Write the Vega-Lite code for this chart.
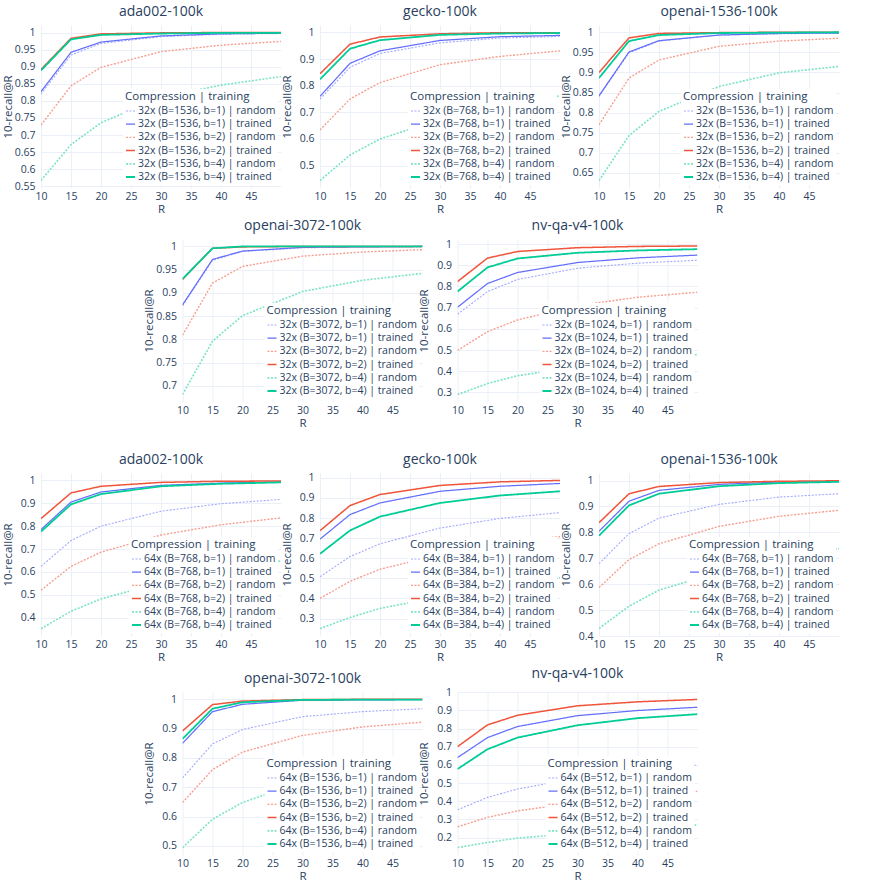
{
"$schema": "https://vega.github.io/schema/vega-lite/v6.json",
"background": "white",
"padding": {"left": 2, "top": 5, "right": 5, "bottom": 5},
"config": {
  "font": "Open Sans",
  "view": {"stroke": null},
  "axis": {"gridColor": "#ebf0f8", "gridWidth": 1, "domain": false, "ticks": false, "labelColor": "#2a3f5f", "titleColor": "#2a3f5f", "labelFontSize": 10.5, "titleFontSize": 11.5, "titleFontWeight": "normal"},
  "axisX": {"labelPadding": 3, "titlePadding": 2, "labelFlush": false, "labelOverlap": false},
  "axisY": {"labelPadding": 6, "minExtent": 27, "maxExtent": 27, "titlePadding": 1, "labelOverlap": false},
  "title": {"fontSize": 14, "fontWeight": "normal", "color": "#2a3f5f", "offset": 6, "anchor": "middle"},
  "legend": {"orient": "bottom-right", "offset": 3, "padding": 2, "fillColor": "white", "titleFontSize": 11.5, "titleFontWeight": "normal", "titleColor": "#2a3f5f", "labelColor": "#2a3f5f", "labelFontSize": 10.5, "symbolType": "stroke", "symbolSize": 81, "rowPadding": 2.2, "titlePadding": 3, "labelOffset": 2, "labelLimit": 300}
},
"datasets": {
"A": [
{"k":"b=1) | random","R":10,"v":0.820},{"k":"b=1) | random","R":15,"v":0.934},{"k":"b=1) | random","R":20,"v":0.968},{"k":"b=1) | random","R":30,"v":0.988},{"k":"b=1) | random","R":40,"v":0.995},{"k":"b=1) | random","R":50,"v":0.997},
{"k":"b=1) | trained","R":10,"v":0.827},{"k":"b=1) | trained","R":15,"v":0.942},{"k":"b=1) | trained","R":20,"v":0.972},{"k":"b=1) | trained","R":30,"v":0.990},{"k":"b=1) | trained","R":40,"v":0.996},{"k":"b=1) | trained","R":50,"v":0.998},
{"k":"b=2) | random","R":10,"v":0.729},{"k":"b=2) | random","R":15,"v":0.844},{"k":"b=2) | random","R":20,"v":0.898},{"k":"b=2) | random","R":30,"v":0.944},{"k":"b=2) | random","R":40,"v":0.963},{"k":"b=2) | random","R":50,"v":0.974},
{"k":"b=2) | trained","R":10,"v":0.892},{"k":"b=2) | trained","R":15,"v":0.983},{"k":"b=2) | trained","R":20,"v":0.996},{"k":"b=2) | trained","R":30,"v":0.999},{"k":"b=2) | trained","R":40,"v":1.0},{"k":"b=2) | trained","R":50,"v":1.0},
{"k":"b=4) | random","R":10,"v":0.567},{"k":"b=4) | random","R":15,"v":0.672},{"k":"b=4) | random","R":20,"v":0.736},{"k":"b=4) | random","R":30,"v":0.810},{"k":"b=4) | random","R":40,"v":0.846},{"k":"b=4) | random","R":50,"v":0.871},
{"k":"b=4) | trained","R":10,"v":0.889},{"k":"b=4) | trained","R":15,"v":0.980},{"k":"b=4) | trained","R":20,"v":0.993},{"k":"b=4) | trained","R":30,"v":0.997},{"k":"b=4) | trained","R":40,"v":0.999},{"k":"b=4) | trained","R":50,"v":0.999}
],
"B": [
{"k":"b=1) | random","R":10,"v":0.750},{"k":"b=1) | random","R":15,"v":0.869},{"k":"b=1) | random","R":20,"v":0.921},{"k":"b=1) | random","R":30,"v":0.961},{"k":"b=1) | random","R":40,"v":0.979},{"k":"b=1) | random","R":50,"v":0.985},
{"k":"b=1) | trained","R":10,"v":0.760},{"k":"b=1) | trained","R":15,"v":0.884},{"k":"b=1) | trained","R":20,"v":0.931},{"k":"b=1) | trained","R":30,"v":0.970},{"k":"b=1) | trained","R":40,"v":0.984},{"k":"b=1) | trained","R":50,"v":0.989},
{"k":"b=2) | random","R":10,"v":0.634},{"k":"b=2) | random","R":15,"v":0.750},{"k":"b=2) | random","R":20,"v":0.812},{"k":"b=2) | random","R":30,"v":0.879},{"k":"b=2) | random","R":40,"v":0.910},{"k":"b=2) | random","R":50,"v":0.931},
{"k":"b=2) | trained","R":10,"v":0.845},{"k":"b=2) | trained","R":15,"v":0.956},{"k":"b=2) | trained","R":20,"v":0.983},{"k":"b=2) | trained","R":30,"v":0.995},{"k":"b=2) | trained","R":40,"v":0.999},{"k":"b=2) | trained","R":50,"v":0.999},
{"k":"b=4) | random","R":10,"v":0.444},{"k":"b=4) | random","R":15,"v":0.540},{"k":"b=4) | random","R":20,"v":0.600},{"k":"b=4) | random","R":30,"v":0.673},{"k":"b=4) | random","R":40,"v":0.725},{"k":"b=4) | random","R":50,"v":0.762},
{"k":"b=4) | trained","R":10,"v":0.824},{"k":"b=4) | trained","R":15,"v":0.939},{"k":"b=4) | trained","R":20,"v":0.971},{"k":"b=4) | trained","R":30,"v":0.991},{"k":"b=4) | trained","R":40,"v":0.996},{"k":"b=4) | trained","R":50,"v":0.998}
],
"C": [
{"k":"b=1) | random","R":10,"v":0.840},{"k":"b=1) | random","R":15,"v":0.949},{"k":"b=1) | random","R":20,"v":0.978},{"k":"b=1) | random","R":30,"v":0.993},{"k":"b=1) | random","R":40,"v":0.996},{"k":"b=1) | random","R":50,"v":0.998},
{"k":"b=1) | trained","R":10,"v":0.842},{"k":"b=1) | trained","R":15,"v":0.951},{"k":"b=1) | trained","R":20,"v":0.979},{"k":"b=1) | trained","R":30,"v":0.993},{"k":"b=1) | trained","R":40,"v":0.997},{"k":"b=1) | trained","R":50,"v":0.998},
{"k":"b=2) | random","R":10,"v":0.770},{"k":"b=2) | random","R":15,"v":0.886},{"k":"b=2) | random","R":20,"v":0.931},{"k":"b=2) | random","R":30,"v":0.965},{"k":"b=2) | random","R":40,"v":0.978},{"k":"b=2) | random","R":50,"v":0.985},
{"k":"b=2) | trained","R":10,"v":0.900},{"k":"b=2) | trained","R":15,"v":0.986},{"k":"b=2) | trained","R":20,"v":0.997},{"k":"b=2) | trained","R":30,"v":0.999},{"k":"b=2) | trained","R":40,"v":1.0},{"k":"b=2) | trained","R":50,"v":1.0},
{"k":"b=4) | random","R":10,"v":0.631},{"k":"b=4) | random","R":15,"v":0.743},{"k":"b=4) | random","R":20,"v":0.803},{"k":"b=4) | random","R":30,"v":0.865},{"k":"b=4) | random","R":40,"v":0.899},{"k":"b=4) | random","R":50,"v":0.915},
{"k":"b=4) | trained","R":10,"v":0.886},{"k":"b=4) | trained","R":15,"v":0.978},{"k":"b=4) | trained","R":20,"v":0.993},{"k":"b=4) | trained","R":30,"v":0.998},{"k":"b=4) | trained","R":40,"v":0.999},{"k":"b=4) | trained","R":50,"v":1.0}
],
"D": [
{"k":"b=1) | random","R":10,"v":0.872},{"k":"b=1) | random","R":15,"v":0.970},{"k":"b=1) | random","R":20,"v":0.989},{"k":"b=1) | random","R":30,"v":0.997},{"k":"b=1) | random","R":40,"v":0.999},{"k":"b=1) | random","R":50,"v":0.999},
{"k":"b=1) | trained","R":10,"v":0.874},{"k":"b=1) | trained","R":15,"v":0.972},{"k":"b=1) | trained","R":20,"v":0.990},{"k":"b=1) | trained","R":30,"v":0.998},{"k":"b=1) | trained","R":40,"v":0.999},{"k":"b=1) | trained","R":50,"v":1.0},
{"k":"b=2) | random","R":10,"v":0.809},{"k":"b=2) | random","R":15,"v":0.921},{"k":"b=2) | random","R":20,"v":0.957},{"k":"b=2) | random","R":30,"v":0.979},{"k":"b=2) | random","R":40,"v":0.988},{"k":"b=2) | random","R":50,"v":0.993},
{"k":"b=2) | trained","R":10,"v":0.929},{"k":"b=2) | trained","R":15,"v":0.996},{"k":"b=2) | trained","R":20,"v":0.999},{"k":"b=2) | trained","R":30,"v":1.0},{"k":"b=2) | trained","R":40,"v":1.0},{"k":"b=2) | trained","R":50,"v":1.0},
{"k":"b=4) | random","R":10,"v":0.681},{"k":"b=4) | random","R":15,"v":0.796},{"k":"b=4) | random","R":20,"v":0.851},{"k":"b=4) | random","R":30,"v":0.903},{"k":"b=4) | random","R":40,"v":0.927},{"k":"b=4) | random","R":50,"v":0.942},
{"k":"b=4) | trained","R":10,"v":0.930},{"k":"b=4) | trained","R":15,"v":0.996},{"k":"b=4) | trained","R":20,"v":1.0},{"k":"b=4) | trained","R":30,"v":1.0},{"k":"b=4) | trained","R":40,"v":1.0},{"k":"b=4) | trained","R":50,"v":1.0}
],
"E": [
{"k":"b=1) | random","R":10,"v":0.669},{"k":"b=1) | random","R":15,"v":0.776},{"k":"b=1) | random","R":20,"v":0.833},{"k":"b=1) | random","R":30,"v":0.886},{"k":"b=1) | random","R":40,"v":0.910},{"k":"b=1) | random","R":50,"v":0.924},
{"k":"b=1) | trained","R":10,"v":0.702},{"k":"b=1) | trained","R":15,"v":0.814},{"k":"b=1) | trained","R":20,"v":0.866},{"k":"b=1) | trained","R":30,"v":0.913},{"k":"b=1) | trained","R":40,"v":0.935},{"k":"b=1) | trained","R":50,"v":0.948},
{"k":"b=2) | random","R":10,"v":0.498},{"k":"b=2) | random","R":15,"v":0.587},{"k":"b=2) | random","R":20,"v":0.642},{"k":"b=2) | random","R":30,"v":0.710},{"k":"b=2) | random","R":40,"v":0.749},{"k":"b=2) | random","R":50,"v":0.773},
{"k":"b=2) | trained","R":10,"v":0.823},{"k":"b=2) | trained","R":15,"v":0.934},{"k":"b=2) | trained","R":20,"v":0.965},{"k":"b=2) | trained","R":30,"v":0.983},{"k":"b=2) | trained","R":40,"v":0.989},{"k":"b=2) | trained","R":50,"v":0.991},
{"k":"b=4) | random","R":10,"v":0.290},{"k":"b=4) | random","R":15,"v":0.342},{"k":"b=4) | random","R":20,"v":0.379},{"k":"b=4) | random","R":30,"v":0.421},{"k":"b=4) | random","R":40,"v":0.458},{"k":"b=4) | random","R":50,"v":0.479},
{"k":"b=4) | trained","R":10,"v":0.776},{"k":"b=4) | trained","R":15,"v":0.890},{"k":"b=4) | trained","R":20,"v":0.932},{"k":"b=4) | trained","R":30,"v":0.959},{"k":"b=4) | trained","R":40,"v":0.970},{"k":"b=4) | trained","R":50,"v":0.976}
],
"F": [
{"k":"b=1) | random","R":10,"v":0.624},{"k":"b=1) | random","R":15,"v":0.737},{"k":"b=1) | random","R":20,"v":0.800},{"k":"b=1) | random","R":30,"v":0.865},{"k":"b=1) | random","R":40,"v":0.898},{"k":"b=1) | random","R":50,"v":0.917},
{"k":"b=1) | trained","R":10,"v":0.785},{"k":"b=1) | trained","R":15,"v":0.905},{"k":"b=1) | trained","R":20,"v":0.949},{"k":"b=1) | trained","R":30,"v":0.978},{"k":"b=1) | trained","R":40,"v":0.988},{"k":"b=1) | trained","R":50,"v":0.993},
{"k":"b=2) | random","R":10,"v":0.520},{"k":"b=2) | random","R":15,"v":0.624},{"k":"b=2) | random","R":20,"v":0.686},{"k":"b=2) | random","R":30,"v":0.761},{"k":"b=2) | random","R":40,"v":0.806},{"k":"b=2) | random","R":50,"v":0.836},
{"k":"b=2) | trained","R":10,"v":0.833},{"k":"b=2) | trained","R":15,"v":0.945},{"k":"b=2) | trained","R":20,"v":0.974},{"k":"b=2) | trained","R":30,"v":0.991},{"k":"b=2) | trained","R":40,"v":0.996},{"k":"b=2) | trained","R":50,"v":0.997},
{"k":"b=4) | random","R":10,"v":0.352},{"k":"b=4) | random","R":15,"v":0.428},{"k":"b=4) | random","R":20,"v":0.482},{"k":"b=4) | random","R":30,"v":0.553},{"k":"b=4) | random","R":40,"v":0.607},{"k":"b=4) | random","R":50,"v":0.648},
{"k":"b=4) | trained","R":10,"v":0.776},{"k":"b=4) | trained","R":15,"v":0.895},{"k":"b=4) | trained","R":20,"v":0.940},{"k":"b=4) | trained","R":30,"v":0.974},{"k":"b=4) | trained","R":40,"v":0.985},{"k":"b=4) | trained","R":50,"v":0.991}
],
"G": [
{"k":"b=1) | random","R":10,"v":0.508},{"k":"b=1) | random","R":15,"v":0.608},{"k":"b=1) | random","R":20,"v":0.672},{"k":"b=1) | random","R":30,"v":0.750},{"k":"b=1) | random","R":40,"v":0.798},{"k":"b=1) | random","R":50,"v":0.827},
{"k":"b=1) | trained","R":10,"v":0.695},{"k":"b=1) | trained","R":15,"v":0.817},{"k":"b=1) | trained","R":20,"v":0.875},{"k":"b=1) | trained","R":30,"v":0.933},{"k":"b=1) | trained","R":40,"v":0.958},{"k":"b=1) | trained","R":50,"v":0.972},
{"k":"b=2) | random","R":10,"v":0.400},{"k":"b=2) | random","R":15,"v":0.485},{"k":"b=2) | random","R":20,"v":0.545},{"k":"b=2) | random","R":30,"v":0.618},{"k":"b=2) | random","R":40,"v":0.672},{"k":"b=2) | random","R":50,"v":0.708},
{"k":"b=2) | trained","R":10,"v":0.737},{"k":"b=2) | trained","R":15,"v":0.862},{"k":"b=2) | trained","R":20,"v":0.917},{"k":"b=2) | trained","R":30,"v":0.962},{"k":"b=2) | trained","R":40,"v":0.980},{"k":"b=2) | trained","R":50,"v":0.987},
{"k":"b=4) | random","R":10,"v":0.250},{"k":"b=4) | random","R":15,"v":0.305},{"k":"b=4) | random","R":20,"v":0.350},{"k":"b=4) | random","R":30,"v":0.408},{"k":"b=4) | random","R":40,"v":0.465},{"k":"b=4) | random","R":50,"v":0.503},
{"k":"b=4) | trained","R":10,"v":0.622},{"k":"b=4) | trained","R":15,"v":0.738},{"k":"b=4) | trained","R":20,"v":0.807},{"k":"b=4) | trained","R":30,"v":0.875},{"k":"b=4) | trained","R":40,"v":0.912},{"k":"b=4) | trained","R":50,"v":0.933}
],
"H": [
{"k":"b=1) | random","R":10,"v":0.679},{"k":"b=1) | random","R":15,"v":0.795},{"k":"b=1) | random","R":20,"v":0.855},{"k":"b=1) | random","R":30,"v":0.908},{"k":"b=1) | random","R":40,"v":0.936},{"k":"b=1) | random","R":50,"v":0.949},
{"k":"b=1) | trained","R":10,"v":0.804},{"k":"b=1) | trained","R":15,"v":0.920},{"k":"b=1) | trained","R":20,"v":0.962},{"k":"b=1) | trained","R":30,"v":0.985},{"k":"b=1) | trained","R":40,"v":0.994},{"k":"b=1) | trained","R":50,"v":0.996},
{"k":"b=2) | random","R":10,"v":0.587},{"k":"b=2) | random","R":15,"v":0.695},{"k":"b=2) | random","R":20,"v":0.756},{"k":"b=2) | random","R":30,"v":0.823},{"k":"b=2) | random","R":40,"v":0.862},{"k":"b=2) | random","R":50,"v":0.885},
{"k":"b=2) | trained","R":10,"v":0.837},{"k":"b=2) | trained","R":15,"v":0.949},{"k":"b=2) | trained","R":20,"v":0.977},{"k":"b=2) | trained","R":30,"v":0.992},{"k":"b=2) | trained","R":40,"v":0.997},{"k":"b=2) | trained","R":50,"v":0.999},
{"k":"b=4) | random","R":10,"v":0.429},{"k":"b=4) | random","R":15,"v":0.515},{"k":"b=4) | random","R":20,"v":0.577},{"k":"b=4) | random","R":30,"v":0.647},{"k":"b=4) | random","R":40,"v":0.700},{"k":"b=4) | random","R":50,"v":0.737},
{"k":"b=4) | trained","R":10,"v":0.787},{"k":"b=4) | trained","R":15,"v":0.904},{"k":"b=4) | trained","R":20,"v":0.949},{"k":"b=4) | trained","R":30,"v":0.978},{"k":"b=4) | trained","R":40,"v":0.990},{"k":"b=4) | trained","R":50,"v":0.995}
],
"I": [
{"k":"b=1) | random","R":10,"v":0.732},{"k":"b=1) | random","R":15,"v":0.848},{"k":"b=1) | random","R":20,"v":0.897},{"k":"b=1) | random","R":30,"v":0.941},{"k":"b=1) | random","R":40,"v":0.958},{"k":"b=1) | random","R":50,"v":0.968},
{"k":"b=1) | trained","R":10,"v":0.850},{"k":"b=1) | trained","R":15,"v":0.958},{"k":"b=1) | trained","R":20,"v":0.983},{"k":"b=1) | trained","R":30,"v":0.997},{"k":"b=1) | trained","R":40,"v":0.998},{"k":"b=1) | trained","R":50,"v":0.999},
{"k":"b=2) | random","R":10,"v":0.648},{"k":"b=2) | random","R":15,"v":0.760},{"k":"b=2) | random","R":20,"v":0.820},{"k":"b=2) | random","R":30,"v":0.877},{"k":"b=2) | random","R":40,"v":0.906},{"k":"b=2) | random","R":50,"v":0.922},
{"k":"b=2) | trained","R":10,"v":0.892},{"k":"b=2) | trained","R":15,"v":0.982},{"k":"b=2) | trained","R":20,"v":0.994},{"k":"b=2) | trained","R":30,"v":0.999},{"k":"b=2) | trained","R":40,"v":1.0},{"k":"b=2) | trained","R":50,"v":1.0},
{"k":"b=4) | random","R":10,"v":0.494},{"k":"b=4) | random","R":15,"v":0.591},{"k":"b=4) | random","R":20,"v":0.648},{"k":"b=4) | random","R":30,"v":0.720},{"k":"b=4) | random","R":40,"v":0.765},{"k":"b=4) | random","R":50,"v":0.792},
{"k":"b=4) | trained","R":10,"v":0.865},{"k":"b=4) | trained","R":15,"v":0.968},{"k":"b=4) | trained","R":20,"v":0.990},{"k":"b=4) | trained","R":30,"v":0.998},{"k":"b=4) | trained","R":40,"v":0.999},{"k":"b=4) | trained","R":50,"v":0.999}
],
"J": [
{"k":"b=1) | random","R":10,"v":0.353},{"k":"b=1) | random","R":15,"v":0.421},{"k":"b=1) | random","R":20,"v":0.467},{"k":"b=1) | random","R":30,"v":0.528},{"k":"b=1) | random","R":40,"v":0.570},{"k":"b=1) | random","R":50,"v":0.599},
{"k":"b=1) | trained","R":10,"v":0.640},{"k":"b=1) | trained","R":15,"v":0.750},{"k":"b=1) | trained","R":20,"v":0.811},{"k":"b=1) | trained","R":30,"v":0.871},{"k":"b=1) | trained","R":40,"v":0.899},{"k":"b=1) | trained","R":50,"v":0.917},
{"k":"b=2) | random","R":10,"v":0.259},{"k":"b=2) | random","R":15,"v":0.311},{"k":"b=2) | random","R":20,"v":0.347},{"k":"b=2) | random","R":30,"v":0.393},{"k":"b=2) | random","R":40,"v":0.428},{"k":"b=2) | random","R":50,"v":0.454},
{"k":"b=2) | trained","R":10,"v":0.700},{"k":"b=2) | trained","R":15,"v":0.820},{"k":"b=2) | trained","R":20,"v":0.873},{"k":"b=2) | trained","R":30,"v":0.925},{"k":"b=2) | trained","R":40,"v":0.947},{"k":"b=2) | trained","R":50,"v":0.960},
{"k":"b=4) | random","R":10,"v":0.145},{"k":"b=4) | random","R":15,"v":0.173},{"k":"b=4) | random","R":20,"v":0.197},{"k":"b=4) | random","R":30,"v":0.224},{"k":"b=4) | random","R":40,"v":0.246},{"k":"b=4) | random","R":50,"v":0.270},
{"k":"b=4) | trained","R":10,"v":0.577},{"k":"b=4) | trained","R":15,"v":0.686},{"k":"b=4) | trained","R":20,"v":0.750},{"k":"b=4) | trained","R":30,"v":0.818},{"k":"b=4) | trained","R":40,"v":0.857},{"k":"b=4) | trained","R":50,"v":0.879}
]
},
"spacing": 23,
"center": true,
"resolve": {"scale": {"color": "independent", "strokeDash": "independent", "strokeWidth": "independent", "x": "independent", "y": "independent"}, "legend": {"color": "independent", "strokeDash": "independent", "strokeWidth": "independent"}},
"vconcat": [
{
"spacing": 4,
"center": true,
"resolve": {"scale": {"color": "independent", "strokeDash": "independent", "strokeWidth": "independent", "x": "independent", "y": "independent"}, "legend": {"color": "independent", "strokeDash": "independent", "strokeWidth": "independent"}},
"vconcat": [
{"hconcat": [
{"width": 240, "height": 163, "title": "ada002-100k", "data": {"name": "A"}, "mark": {"type": "line", "clip": true}, "encoding": {
"x": {"field": "R", "type": "quantitative", "title": "R", "scale": {"domain": [10, 50], "nice": false}, "axis": {"values": [10, 15, 20, 25, 30, 35, 40, 45]}},
"y": {"field": "v", "type": "quantitative", "title": "10-recall@R", "scale": {"domain": [0.545, 1.022], "nice": false, "zero": false}, "axis": {"values": [0.55, 0.6, 0.65, 0.7, 0.75, 0.8, 0.85, 0.9, 0.95, 1], "format": "~g"}},
"color": {"field": "k", "type": "nominal", "title": "Compression | training", "scale": {"range": ["#a3a9fc", "#636efa", "#f69e8f", "#ef553b", "#7fe3c8", "#00cc96"]}, "legend": {"labelExpr": "'32x (B=1536, ' + datum.label"}},
"strokeDash": {"field": "k", "type": "nominal", "title": "Compression | training", "scale": {"range": [[2, 1.5], [1, 0], [2, 1.5], [1, 0], [2, 1.5], [1, 0]]}, "legend": {"labelExpr": "'32x (B=1536, ' + datum.label"}},
"strokeWidth": {"field": "k", "type": "nominal", "title": "Compression | training", "scale": {"range": [1.1, 1.8, 1.1, 1.8, 1.1, 1.8]}, "legend": {"labelExpr": "'32x (B=1536, ' + datum.label"}}
}},
{"width": 240, "height": 163, "title": "gecko-100k", "data": {"name": "B"}, "mark": {"type": "line", "clip": true}, "encoding": {
"x": {"field": "R", "type": "quantitative", "title": "R", "scale": {"domain": [10, 50], "nice": false}, "axis": {"values": [10, 15, 20, 25, 30, 35, 40, 45]}},
"y": {"field": "v", "type": "quantitative", "title": "10-recall@R", "scale": {"domain": [0.416, 1.028], "nice": false, "zero": false}, "axis": {"values": [0.5, 0.6, 0.7, 0.8, 0.9, 1], "format": "~g"}},
"color": {"field": "k", "type": "nominal", "title": "Compression | training", "scale": {"range": ["#a3a9fc", "#636efa", "#f69e8f", "#ef553b", "#7fe3c8", "#00cc96"]}, "legend": {"labelExpr": "'32x (B=768, ' + datum.label"}},
"strokeDash": {"field": "k", "type": "nominal", "title": "Compression | training", "scale": {"range": [[2, 1.5], [1, 0], [2, 1.5], [1, 0], [2, 1.5], [1, 0]]}, "legend": {"labelExpr": "'32x (B=768, ' + datum.label"}},
"strokeWidth": {"field": "k", "type": "nominal", "title": "Compression | training", "scale": {"range": [1.1, 1.8, 1.1, 1.8, 1.1, 1.8]}, "legend": {"labelExpr": "'32x (B=768, ' + datum.label"}}
}},
{"width": 240, "height": 163, "title": "openai-1536-100k", "data": {"name": "C"}, "mark": {"type": "line", "clip": true}, "encoding": {
"x": {"field": "R", "type": "quantitative", "title": "R", "scale": {"domain": [10, 50], "nice": false}, "axis": {"values": [10, 15, 20, 25, 30, 35, 40, 45]}},
"y": {"field": "v", "type": "quantitative", "title": "10-recall@R", "scale": {"domain": [0.6126, 1.018], "nice": false, "zero": false}, "axis": {"values": [0.65, 0.7, 0.75, 0.8, 0.85, 0.9, 0.95, 1], "format": "~g"}},
"color": {"field": "k", "type": "nominal", "title": "Compression | training", "scale": {"range": ["#a3a9fc", "#636efa", "#f69e8f", "#ef553b", "#7fe3c8", "#00cc96"]}, "legend": {"labelExpr": "'32x (B=1536, ' + datum.label"}},
"strokeDash": {"field": "k", "type": "nominal", "title": "Compression | training", "scale": {"range": [[2, 1.5], [1, 0], [2, 1.5], [1, 0], [2, 1.5], [1, 0]]}, "legend": {"labelExpr": "'32x (B=1536, ' + datum.label"}},
"strokeWidth": {"field": "k", "type": "nominal", "title": "Compression | training", "scale": {"range": [1.1, 1.8, 1.1, 1.8, 1.1, 1.8]}, "legend": {"labelExpr": "'32x (B=1536, ' + datum.label"}}
}}
], "spacing": 0,
"resolve": {"scale": {"color": "independent", "strokeDash": "independent", "strokeWidth": "independent", "x": "independent", "y": "independent"}, "legend": {"color": "independent", "strokeDash": "independent", "strokeWidth": "independent"}}},
{"hconcat": [
{"width": 240, "height": 163, "title": "openai-3072-100k", "data": {"name": "D"}, "mark": {"type": "line", "clip": true}, "encoding": {
"x": {"field": "R", "type": "quantitative", "title": "R", "scale": {"domain": [10, 50], "nice": false}, "axis": {"values": [10, 15, 20, 25, 30, 35, 40, 45]}},
"y": {"field": "v", "type": "quantitative", "title": "10-recall@R", "scale": {"domain": [0.665, 1.016], "nice": false, "zero": false}, "axis": {"values": [0.7, 0.75, 0.8, 0.85, 0.9, 0.95, 1], "format": "~g"}},
"color": {"field": "k", "type": "nominal", "title": "Compression | training", "scale": {"range": ["#a3a9fc", "#636efa", "#f69e8f", "#ef553b", "#7fe3c8", "#00cc96"]}, "legend": {"labelExpr": "'32x (B=3072, ' + datum.label"}},
"strokeDash": {"field": "k", "type": "nominal", "title": "Compression | training", "scale": {"range": [[2, 1.5], [1, 0], [2, 1.5], [1, 0], [2, 1.5], [1, 0]]}, "legend": {"labelExpr": "'32x (B=3072, ' + datum.label"}},
"strokeWidth": {"field": "k", "type": "nominal", "title": "Compression | training", "scale": {"range": [1.1, 1.8, 1.1, 1.8, 1.1, 1.8]}, "legend": {"labelExpr": "'32x (B=3072, ' + datum.label"}}
}},
{"width": 240, "height": 163, "title": "nv-qa-v4-100k", "data": {"name": "E"}, "mark": {"type": "line", "clip": true}, "encoding": {
"x": {"field": "R", "type": "quantitative", "title": "R", "scale": {"domain": [10, 50], "nice": false}, "axis": {"values": [10, 15, 20, 25, 30, 35, 40, 45]}},
"y": {"field": "v", "type": "quantitative", "title": "10-recall@R", "scale": {"domain": [0.255, 1.024], "nice": false, "zero": false}, "axis": {"values": [0.3, 0.4, 0.5, 0.6, 0.7, 0.8, 0.9, 1], "format": "~g"}},
"color": {"field": "k", "type": "nominal", "title": "Compression | training", "scale": {"range": ["#a3a9fc", "#636efa", "#f69e8f", "#ef553b", "#7fe3c8", "#00cc96"]}, "legend": {"labelExpr": "'32x (B=1024, ' + datum.label"}},
"strokeDash": {"field": "k", "type": "nominal", "title": "Compression | training", "scale": {"range": [[2, 1.5], [1, 0], [2, 1.5], [1, 0], [2, 1.5], [1, 0]]}, "legend": {"labelExpr": "'32x (B=1024, ' + datum.label"}},
"strokeWidth": {"field": "k", "type": "nominal", "title": "Compression | training", "scale": {"range": [1.1, 1.8, 1.1, 1.8, 1.1, 1.8]}, "legend": {"labelExpr": "'32x (B=1024, ' + datum.label"}}
}}
], "spacing": -4,
"resolve": {"scale": {"color": "independent", "strokeDash": "independent", "strokeWidth": "independent", "x": "independent", "y": "independent"}, "legend": {"color": "independent", "strokeDash": "independent", "strokeWidth": "independent"}}}
]
},
{
"spacing": 4,
"center": true,
"resolve": {"scale": {"color": "independent", "strokeDash": "independent", "strokeWidth": "independent", "x": "independent", "y": "independent"}, "legend": {"color": "independent", "strokeDash": "independent", "strokeWidth": "independent"}},
"vconcat": [
{"hconcat": [
{"width": 240, "height": 163, "title": "ada002-100k", "data": {"name": "F"}, "mark": {"type": "line", "clip": true}, "encoding": {
"x": {"field": "R", "type": "quantitative", "title": "R", "scale": {"domain": [10, 50], "nice": false}, "axis": {"values": [10, 15, 20, 25, 30, 35, 40, 45]}},
"y": {"field": "v", "type": "quantitative", "title": "10-recall@R", "scale": {"domain": [0.32, 1.032], "nice": false, "zero": false}, "axis": {"values": [0.4, 0.5, 0.6, 0.7, 0.8, 0.9, 1], "format": "~g"}},
"color": {"field": "k", "type": "nominal", "title": "Compression | training", "scale": {"range": ["#a3a9fc", "#636efa", "#f69e8f", "#ef553b", "#7fe3c8", "#00cc96"]}, "legend": {"labelExpr": "'64x (B=768, ' + datum.label"}},
"strokeDash": {"field": "k", "type": "nominal", "title": "Compression | training", "scale": {"range": [[2, 1.5], [1, 0], [2, 1.5], [1, 0], [2, 1.5], [1, 0]]}, "legend": {"labelExpr": "'64x (B=768, ' + datum.label"}},
"strokeWidth": {"field": "k", "type": "nominal", "title": "Compression | training", "scale": {"range": [1.1, 1.8, 1.1, 1.8, 1.1, 1.8]}, "legend": {"labelExpr": "'64x (B=768, ' + datum.label"}}
}},
{"width": 240, "height": 163, "title": "gecko-100k", "data": {"name": "G"}, "mark": {"type": "line", "clip": true}, "encoding": {
"x": {"field": "R", "type": "quantitative", "title": "R", "scale": {"domain": [10, 50], "nice": false}, "axis": {"values": [10, 15, 20, 25, 30, 35, 40, 45]}},
"y": {"field": "v", "type": "quantitative", "title": "10-recall@R", "scale": {"domain": [0.213, 1.024], "nice": false, "zero": false}, "axis": {"values": [0.3, 0.4, 0.5, 0.6, 0.7, 0.8, 0.9, 1], "format": "~g"}},
"color": {"field": "k", "type": "nominal", "title": "Compression | training", "scale": {"range": ["#a3a9fc", "#636efa", "#f69e8f", "#ef553b", "#7fe3c8", "#00cc96"]}, "legend": {"labelExpr": "'64x (B=384, ' + datum.label"}},
"strokeDash": {"field": "k", "type": "nominal", "title": "Compression | training", "scale": {"range": [[2, 1.5], [1, 0], [2, 1.5], [1, 0], [2, 1.5], [1, 0]]}, "legend": {"labelExpr": "'64x (B=384, ' + datum.label"}},
"strokeWidth": {"field": "k", "type": "nominal", "title": "Compression | training", "scale": {"range": [1.1, 1.8, 1.1, 1.8, 1.1, 1.8]}, "legend": {"labelExpr": "'64x (B=384, ' + datum.label"}}
}},
{"width": 240, "height": 163, "title": "openai-1536-100k", "data": {"name": "H"}, "mark": {"type": "line", "clip": true}, "encoding": {
"x": {"field": "R", "type": "quantitative", "title": "R", "scale": {"domain": [10, 50], "nice": false}, "axis": {"values": [10, 15, 20, 25, 30, 35, 40, 45]}},
"y": {"field": "v", "type": "quantitative", "title": "10-recall@R", "scale": {"domain": [0.4, 1.029], "nice": false, "zero": false}, "axis": {"values": [0.4, 0.5, 0.6, 0.7, 0.8, 0.9, 1], "format": "~g"}},
"color": {"field": "k", "type": "nominal", "title": "Compression | training", "scale": {"range": ["#a3a9fc", "#636efa", "#f69e8f", "#ef553b", "#7fe3c8", "#00cc96"]}, "legend": {"labelExpr": "'64x (B=768, ' + datum.label"}},
"strokeDash": {"field": "k", "type": "nominal", "title": "Compression | training", "scale": {"range": [[2, 1.5], [1, 0], [2, 1.5], [1, 0], [2, 1.5], [1, 0]]}, "legend": {"labelExpr": "'64x (B=768, ' + datum.label"}},
"strokeWidth": {"field": "k", "type": "nominal", "title": "Compression | training", "scale": {"range": [1.1, 1.8, 1.1, 1.8, 1.1, 1.8]}, "legend": {"labelExpr": "'64x (B=768, ' + datum.label"}}
}}
], "spacing": 0,
"resolve": {"scale": {"color": "independent", "strokeDash": "independent", "strokeWidth": "independent", "x": "independent", "y": "independent"}, "legend": {"color": "independent", "strokeDash": "independent", "strokeWidth": "independent"}}},
{"hconcat": [
{"width": 240, "height": 163, "title": "openai-3072-100k", "data": {"name": "I"}, "mark": {"type": "line", "clip": true}, "encoding": {
"x": {"field": "R", "type": "quantitative", "title": "R", "scale": {"domain": [10, 50], "nice": false}, "axis": {"values": [10, 15, 20, 25, 30, 35, 40, 45]}},
"y": {"field": "v", "type": "quantitative", "title": "10-recall@R", "scale": {"domain": [0.469, 1.025], "nice": false, "zero": false}, "axis": {"values": [0.5, 0.6, 0.7, 0.8, 0.9, 1], "format": "~g"}},
"color": {"field": "k", "type": "nominal", "title": "Compression | training", "scale": {"range": ["#a3a9fc", "#636efa", "#f69e8f", "#ef553b", "#7fe3c8", "#00cc96"]}, "legend": {"labelExpr": "'64x (B=1536, ' + datum.label"}},
"strokeDash": {"field": "k", "type": "nominal", "title": "Compression | training", "scale": {"range": [[2, 1.5], [1, 0], [2, 1.5], [1, 0], [2, 1.5], [1, 0]]}, "legend": {"labelExpr": "'64x (B=1536, ' + datum.label"}},
"strokeWidth": {"field": "k", "type": "nominal", "title": "Compression | training", "scale": {"range": [1.1, 1.8, 1.1, 1.8, 1.1, 1.8]}, "legend": {"labelExpr": "'64x (B=1536, ' + datum.label"}}
}},
{"width": 240, "height": 163, "title": "nv-qa-v4-100k", "data": {"name": "J"}, "mark": {"type": "line", "clip": true}, "encoding": {
"x": {"field": "R", "type": "quantitative", "title": "R", "scale": {"domain": [10, 50], "nice": false}, "axis": {"values": [10, 15, 20, 25, 30, 35, 40, 45]}},
"y": {"field": "v", "type": "quantitative", "title": "10-recall@R", "scale": {"domain": [0.104, 1.001], "nice": false, "zero": false}, "axis": {"values": [0.1, 0.2, 0.3, 0.4, 0.5, 0.6, 0.7, 0.8, 0.9, 1], "format": "~g"}},
"color": {"field": "k", "type": "nominal", "title": "Compression | training", "scale": {"range": ["#a3a9fc", "#636efa", "#f69e8f", "#ef553b", "#7fe3c8", "#00cc96"]}, "legend": {"labelExpr": "'64x (B=512, ' + datum.label"}},
"strokeDash": {"field": "k", "type": "nominal", "title": "Compression | training", "scale": {"range": [[2, 1.5], [1, 0], [2, 1.5], [1, 0], [2, 1.5], [1, 0]]}, "legend": {"labelExpr": "'64x (B=512, ' + datum.label"}},
"strokeWidth": {"field": "k", "type": "nominal", "title": "Compression | training", "scale": {"range": [1.1, 1.8, 1.1, 1.8, 1.1, 1.8]}, "legend": {"labelExpr": "'64x (B=512, ' + datum.label"}}
}}
], "spacing": -4,
"resolve": {"scale": {"color": "independent", "strokeDash": "independent", "strokeWidth": "independent", "x": "independent", "y": "independent"}, "legend": {"color": "independent", "strokeDash": "independent", "strokeWidth": "independent"}}}
]
}
]
}
